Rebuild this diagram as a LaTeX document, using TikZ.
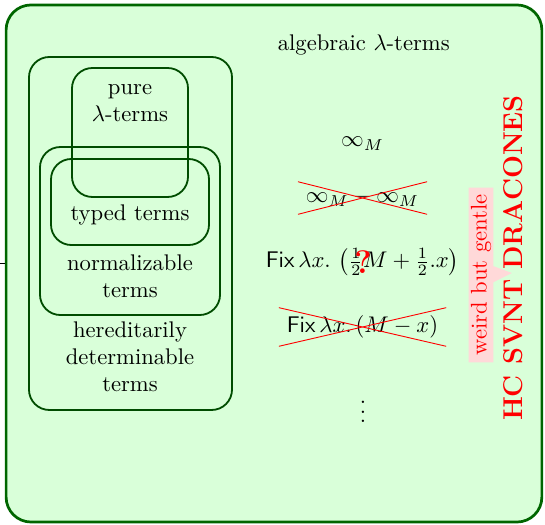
\documentclass[tikz,border=0pt]{standalone}
\usepackage{amsmath}
\usepackage{tikz}
\usetikzlibrary{arrows.meta,positioning,shapes.misc,shapes.callouts}

\begin{document}
\begin{tikzpicture}[>=Stealth]
\tikzstyle{setbox}=[draw=green!30!black,thick,rounded corners=9pt]
\tikzstyle{lbl}=[align=center]
\tikzstyle{nope}=[cross out,draw=red]
\useasboundingbox (0,0) rectangle (8.464,-8.153);
\node[draw=green!40!black,very thick,fill=green!15,rounded corners=11pt,minimum width=8.32cm,minimum height=8.03cm] (all) at (4.255,-4.092) {};
\draw (all.west) -- ++(-0.12,0);
% the nested sets
\draw[setbox] (0.450,-0.885) rectangle (3.603,-6.367);
\draw[setbox] (0.621,-2.283) rectangle (3.417,-4.892);
\draw[setbox] (0.792,-2.469) rectangle (3.246,-3.805);
\draw[setbox] (1.118,-1.056) rectangle (2.920,-3.059);
\node[lbl] (pure) at (2.019,-1.600) {pure\\ $\lambda$-terms};
\node[lbl] (typed) at (2.019,-3.339) {typed terms};
\node[lbl] (norm) at (2.019,-4.286) {normalizable\\ terms};
\node[lbl] (hered) at (2.019,-5.544) {hereditarily\\ determinable\\ terms};
% algebraic side
\node (alg) at (5.65,-0.699) {algebraic $\lambda$-terms};
\node (inf) at (5.63,-2.23) {$\infty_M$};
\node[nope] (infdiff) at (5.63,-3.075) {$\infty_M - \infty_M$};
\node (fix) at (5.63,-4.069) {$\mathsf{Fix}\,\lambda x.\,\left(\tfrac12 M+\tfrac12 .x\right)$};
\node[red,font=\Large\bfseries] (what) at (5.637,-4.069) {?};
\node[nope] (fixneg) at (5.63,-5.078) {$\mathsf{Fix}\,\lambda x.\,(M-x)$};
\node (more) at (5.637,-6.29) {$\vdots$};
% here be dragons
\coordinate (tip) at (7.95,-4.24);
\node[rectangle callout,fill=red!15,text=red,rotate=90,inner xsep=3pt,inner ysep=1pt,callout absolute pointer={(tip)}] (weird) at (7.47,-4.271) {weird but gentle};
\node[red,rotate=90,font=\large\bfseries] (hc) at (7.967,-4.007) {HC SVNT DRACONES};
\end{tikzpicture}
\end{document}
